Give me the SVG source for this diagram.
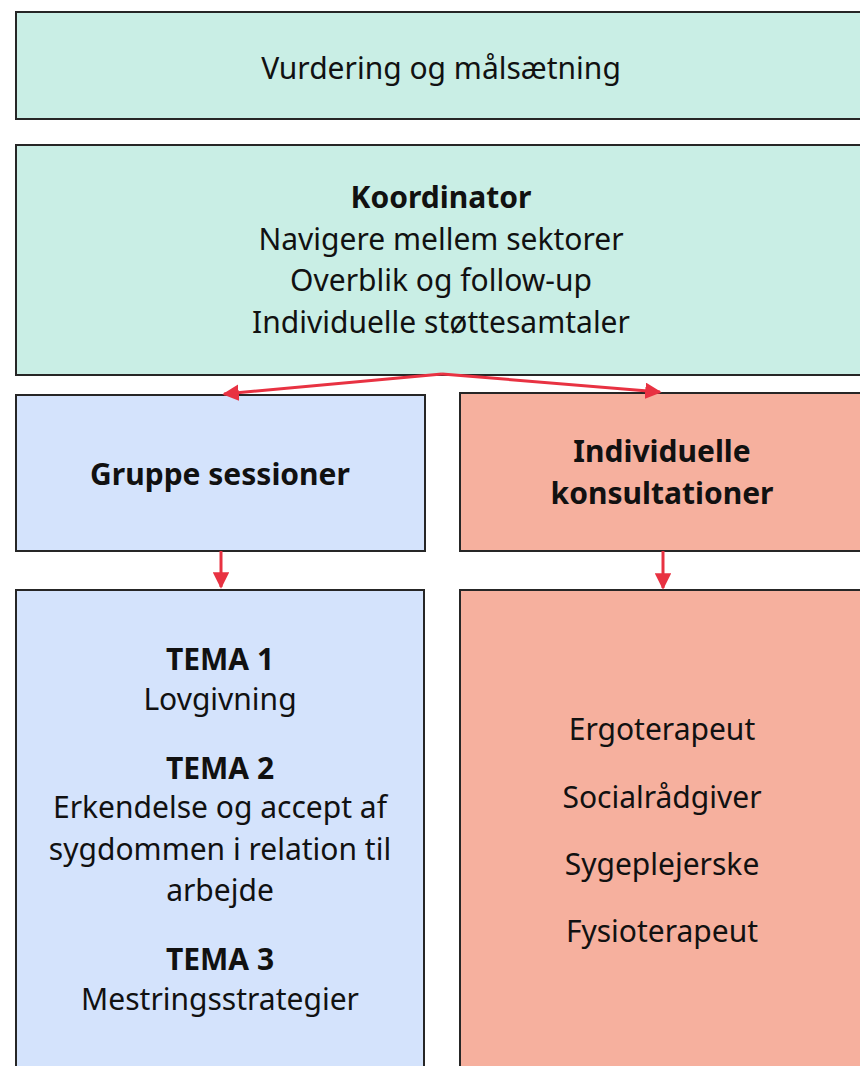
<svg xmlns="http://www.w3.org/2000/svg" width="860" height="1066" viewBox="0 0 860 1066">
<style>
.box{stroke:#262626;stroke-width:2}
.teal{fill:#c9eee5}
.blue{fill:#d4e3fc}
.sal{fill:#f6b09e}
text{font-family:"Noto Sans","Open Sans",sans-serif;font-size:30px;fill:#111;text-anchor:middle}
.b{font-weight:bold}
.con{stroke:#e83242;stroke-width:3;fill:none}
</style>
<defs>
<marker id="ah" viewBox="0 0 10 10" refX="9" refY="5" markerWidth="5.5" markerHeight="5.5" orient="auto" markerUnits="strokeWidth">
<path d="M0,0 L10,5 L0,10 z" fill="#e83242"/>
</marker>
</defs>
<g id="vurdering">
<rect class="box teal" x="16" y="12" width="850" height="107"/>
<text x="441" y="79">Vurdering og målsætning</text>
</g>
<g id="koordinator">
<rect class="box teal" x="16" y="145" width="850" height="230"/>
<text class="b" x="441" y="208">Koordinator</text>
<text x="441" y="250">Navigere mellem sektorer</text>
<text x="441" y="291">Overblik og follow-up</text>
<text x="441" y="333">Individuelle støttesamtaler</text>
</g>
<g id="gruppe">
<rect class="box blue" x="16" y="395" width="409" height="156"/>
<text class="b" x="220" y="485">Gruppe sessioner</text>
</g>
<g id="individuelle">
<rect class="box sal" x="460" y="393" width="406" height="158"/>
<text class="b" x="662" y="462">Individuelle</text>
<text class="b" x="662" y="504">konsultationer</text>
</g>
<g id="tema">
<rect class="box blue" x="16" y="590" width="408" height="490"/>
<text class="b" x="220" y="670">TEMA 1</text>
<text x="220" y="710">Lovgivning</text>
<text class="b" x="220" y="779">TEMA 2</text>
<text x="220" y="818">Erkendelse og accept af</text>
<text x="220" y="860">sygdommen i relation til</text>
<text x="220" y="901">arbejde</text>
<text class="b" x="220" y="970">TEMA 3</text>
<text x="220" y="1010">Mestringsstrategier</text>
</g>
<g id="fag">
<rect class="box sal" x="460" y="590" width="406" height="490"/>
<text x="662" y="740">Ergoterapeut</text>
<text x="662" y="808">Socialrådgiver</text>
<text x="662" y="875">Sygeplejerske</text>
<text x="662" y="942">Fysioterapeut</text>
</g>
<g id="connectors">
<line class="con" x1="442" y1="374" x2="224" y2="394" marker-end="url(#ah)"/>
<line class="con" x1="442" y1="374" x2="660" y2="392" marker-end="url(#ah)"/>
<line class="con" x1="221" y1="551" x2="221" y2="587" marker-end="url(#ah)"/>
<line class="con" x1="663" y1="551" x2="663" y2="588" marker-end="url(#ah)"/>
</g>
</svg>
